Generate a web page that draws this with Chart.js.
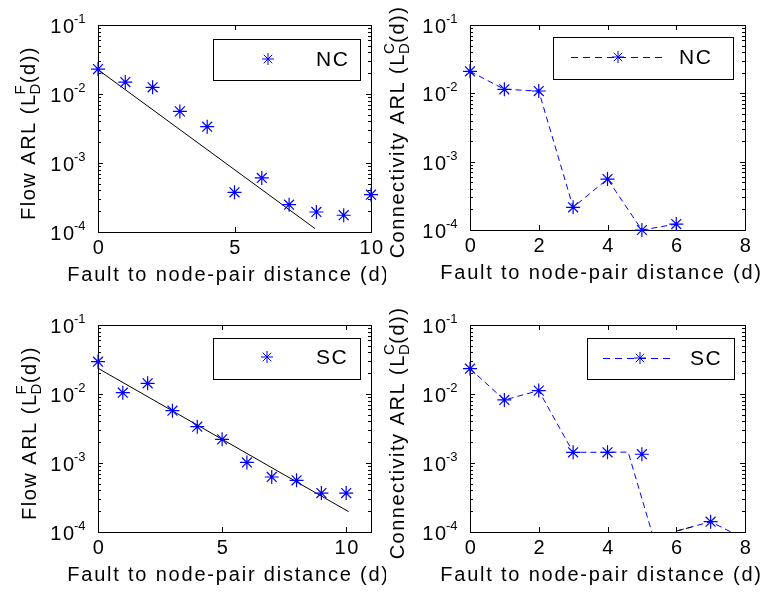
<!DOCTYPE html>
<html>
<head>
<meta charset="utf-8">
<script src="https://cdn.jsdelivr.net/npm/chart.js@4"></script>
<style>
  body { margin: 0; background: #fff; }
  #wrap { position: relative; width: 773px; height: 600px; }
  canvas { position: absolute; }
</style>
</head>
<body>
<div id="wrap">
  <canvas id="c-tl" width="386" height="300" style="left:0;top:0"></canvas>
  <canvas id="c-tr" width="397" height="300" style="left:376px;top:0"></canvas>
  <canvas id="c-bl" width="386" height="300" style="left:0;top:300px"></canvas>
  <canvas id="c-br" width="397" height="300" style="left:376px;top:300px"></canvas>
</div>
<script>
// values
const flowDist = [0, 1, 2, 3, 4, 5, 6, 7, 8, 9, 10];
const flowNC = [0.023, 0.0149, 0.0125, 0.0056, 0.00336, 0.000376, 0.000607, 0.000249, 0.000195, 0.000175, 0.000347];
const flowNCFitX = [0, 7.95];
const flowNCFitY = [0.0225, 0.000112];
const flowSC = [0.0294, 0.01045, 0.0143, 0.00573, 0.00336, 0.0022, 0.00102, 0.000627, 0.000561, 0.000367, 0.000367];
const flowSCFitX = [0, 10.1];
const flowSCFitY = [0.0236, 0.000197];

const connNCDist = [0, 1, 2, 3, 4, 5, 6];
const connNC = [0.021, 0.01146, 0.01081, 0.000215, 0.000557, 0.0001, 0.000122];

const connSCDist = [0, 1, 2, 3, 4, 5, 7];
const connSC = [0.0233, 0.0082, 0.0112, 0.00143, 0.00143, 0.00134, 0.000141];
const connSCLineX = [0, 1, 2, 3, 4, 4.6, 5.6, 6, 7, 8];
const connSCLineY = [0.0233, 0.0082, 0.0112, 0.00143, 0.00143, 0.00144, 0.00003, 0.000103, 0.000141, 0.000079];
const connSCBlackX = [6, 6.5];
const connSCBlackY = [0.000103, 0.00012];

const flowXTicks = [0, 5, 10];
const connXTicks = [0, 2, 4, 6, 8];
const yTickValues = [1e-4, 1e-3, 1e-2, 1e-1];
const yTickExps = ["-4", "-3", "-2", "-1"];

const BLUE = "#0000ff";
const FONT = '"Liberation Sans", Arial, sans-serif';

const pts = (xs, ys) => xs.map((x, i) => ({ x, y: ys[i] }));

const setFont = (ctx, size, ls) => {
  ctx.font = `${size}px ${FONT}`;
  ctx.letterSpacing = (ls || 0) + "px";
};

const drawStar = (ctx, x, y, r) => {
  const d = r * Math.SQRT1_2;
  ctx.beginPath();
  ctx.moveTo(x - r, y); ctx.lineTo(x + r, y);
  ctx.moveTo(x, y - r); ctx.lineTo(x, y + r);
  ctx.moveTo(x - d, y - d); ctx.lineTo(x + d, y + d);
  ctx.moveTo(x - d, y + d); ctx.lineTo(x + d, y - d);
  ctx.stroke();
};

const axesDecor = {
  id: "axesDecor",
  beforeDatasetsDraw(chart, args, o) {
    const { ctx, chartArea: a } = chart;
    const xs = chart.scales.x, ys = chart.scales.y;
    ctx.save();
    ctx.strokeStyle = "#000";
    ctx.lineWidth = 1;
    ctx.strokeRect(Math.round(a.left) + 0.5, Math.round(a.top) + 0.5,
      Math.round(a.right - a.left), Math.round(a.bottom - a.top));
    ctx.beginPath();
    xs.ticks.forEach((t) => {
      const px = Math.round(xs.getPixelForValue(t.value)) + 0.5;
      ctx.moveTo(px, a.bottom); ctx.lineTo(px, a.bottom - 5);
      ctx.moveTo(px, a.top); ctx.lineTo(px, a.top + 5);
    });
    yTickValues.forEach((v, i) => {
      const py = Math.round(ys.getPixelForValue(v)) + 0.5;
      ctx.moveTo(a.left, py); ctx.lineTo(a.left + 5, py);
      ctx.moveTo(a.right, py); ctx.lineTo(a.right - 5, py);
      if (i < yTickValues.length - 1) {
        for (let m = 2; m <= 9; m++) {
          const my = Math.round(ys.getPixelForValue(v * m)) + 0.5;
          ctx.moveTo(a.left, my); ctx.lineTo(a.left + 3, my);
          ctx.moveTo(a.right, my); ctx.lineTo(a.right - 3, my);
        }
      }
    });
    ctx.stroke();
    ctx.restore();
  },
  afterDraw(chart, args, o) {
    const { ctx, chartArea: a } = chart;
    const xs = chart.scales.x, ys = chart.scales.y;
    ctx.save();
    ctx.fillStyle = "#000";
    ctx.textBaseline = "alphabetic";

    // y tick labels 10^k
    yTickValues.forEach((v, i) => {
      const py = ys.getPixelForValue(v);
      const tenRight = a.left - 24;
      setFont(ctx, 20, 1.5);
      ctx.textAlign = "right";
      ctx.fillText("10", tenRight + 1.5, py + 8);
      setFont(ctx, 13, 0);
      ctx.textAlign = "left";
      ctx.fillText(yTickExps[i], tenRight, py - 2);
    });

    // x tick labels
    setFont(ctx, 20, 1.5);
    ctx.textAlign = "center";
    xs.ticks.forEach((t) => {
      ctx.fillText(String(t.value), xs.getPixelForValue(t.value) + 1, a.bottom + 22);
    });

    // x title
    setFont(ctx, 20, 1.8);
    ctx.fillText("Fault to node-pair distance (d)", (a.left + a.right) / 2 - 6, a.bottom + 49);

    // y title with L_D^X
    ctx.translate(o.yTitleX, (a.top + a.bottom) / 2 + 4);
    ctx.rotate(-Math.PI / 2);
    ctx.textAlign = "left";
    setFont(ctx, 20, 1.5);
    const p1 = o.yTitle + " (L";
    const p3 = "(d))";
    const w1 = ctx.measureText(p1).width;
    const w3 = ctx.measureText(p3).width;
    setFont(ctx, 15, 0.5);
    const ws = Math.max(ctx.measureText("D").width, ctx.measureText(o.yTitleSup).width);
    const x0 = -(w1 + ws + w3) / 2;
    setFont(ctx, 20, 1.5);
    ctx.fillText(p1, x0, 0);
    setFont(ctx, 15, 0.5);
    ctx.fillText(o.yTitleSup, x0 + w1 - 1, -10);
    ctx.fillText("D", x0 + w1 - 1, 5);
    setFont(ctx, 20, 1.5);
    ctx.fillText(p3, x0 + w1 + ws - 1, 0);
    ctx.setTransform(1, 0, 0, 1, 0, 0);

    // legend box
    const L = o.legend;
    ctx.fillStyle = "#fff";
    ctx.fillRect(L.x, L.y, L.w, L.h);
    ctx.strokeStyle = "#000";
    ctx.lineWidth = 1;
    ctx.strokeRect(L.x + 0.5, L.y + 0.5, L.w, L.h);
    ctx.strokeStyle = BLUE;
    if (L.line) {
      ctx.setLineDash([7, 5]);
      ctx.beginPath();
      ctx.moveTo(L.line[0], L.my + 0.5);
      ctx.lineTo(L.line[1], L.my + 0.5);
      ctx.stroke();
      ctx.setLineDash([]);
    }
    drawStar(ctx, L.mx, L.my, 6);
    ctx.fillStyle = "#000";
    setFont(ctx, 21, 1.5);
    ctx.textAlign = "left";
    ctx.textBaseline = "middle";
    ctx.fillText(L.text, L.tx, L.my + 1);
    ctx.restore();
  },
};

const markerSet = (data) => ({
  data,
  showLine: false,
  pointStyle: "star",
  pointRadius: 7,
  pointBorderColor: BLUE,
  pointBackgroundColor: BLUE,
  pointBorderWidth: 1.2,
  clip: false,
});

const lineSet = (data, color, dash) => ({
  data,
  showLine: true,
  pointRadius: 0,
  borderColor: color,
  borderWidth: 1,
  borderDash: dash || [],
});

const makePanel = (id, cfg) => {
  const canvas = document.getElementById(id);
  return new Chart(canvas, {
    type: "scatter",
    data: { datasets: cfg.datasets },
    options: {
      responsive: false,
      animation: false,
      devicePixelRatio: 1,
      events: [],
      layout: { padding: { top: cfg.top, right: canvas.width - cfg.right, left: 0, bottom: 0 } },
      plugins: {
        legend: { display: false },
        tooltip: { enabled: false },
        axesDecor: cfg.decor,
      },
      scales: {
        x: {
          type: "linear",
          min: 0,
          max: cfg.xMax,
          grid: { display: false },
          border: { display: false },
          ticks: { display: false },
          afterBuildTicks: (s) => { s.ticks = cfg.xTicks.map((v) => ({ value: v })); },
          afterFit: (s) => { s.height = canvas.height - cfg.bottom; },
        },
        y: {
          type: "logarithmic",
          min: 1e-4,
          max: 1e-1,
          grid: { display: false },
          border: { display: false },
          ticks: { display: false },
          afterFit: (s) => { s.width = cfg.left; },
        },
      },
    },
    plugins: [axesDecor],
  });
};

makePanel("c-tl", {
  left: 98, right: 371, top: 25, bottom: 232, xMax: 10, xTicks: flowXTicks,
  datasets: [markerSet(pts(flowDist, flowNC)), lineSet(pts(flowNCFitX, flowNCFitY), "#000")],
  decor: {
    yTitle: "Flow ARL", yTitleSup: "F", yTitleX: 35,
    legend: { x: 213, y: 39, w: 147, h: 41, mx: 268, my: 59, tx: 316, text: "NC" },
  },
});

makePanel("c-tr", {
  left: 94, right: 369, top: 25, bottom: 230, xMax: 8, xTicks: connXTicks,
  datasets: [markerSet(pts(connNCDist, connNC)), lineSet(pts(connNCDist, connNC), BLUE, [6, 4])],
  decor: {
    yTitle: "Connectivity ARL", yTitleSup: "C", yTitleX: 28,
    legend: { x: 177, y: 37, w: 180, h: 42, mx: 242, my: 57, tx: 303, text: "NC", line: [195, 290] },
  },
});

makePanel("c-bl", {
  left: 98, right: 371, top: 25, bottom: 232, xMax: 11, xTicks: flowXTicks,
  datasets: [markerSet(pts(flowDist, flowSC)), lineSet(pts(flowSCFitX, flowSCFitY), "#000")],
  decor: {
    yTitle: "Flow ARL", yTitleSup: "F", yTitleX: 36,
    legend: { x: 213, y: 38, w: 147, h: 41, mx: 267, my: 57, tx: 316, text: "SC" },
  },
});

makePanel("c-br", {
  left: 94, right: 369, top: 25, bottom: 232, xMax: 8, xTicks: connXTicks,
  datasets: [
    markerSet(pts(connSCDist, connSC)),
    lineSet(pts(connSCBlackX, connSCBlackY), "#000", [6, 4]),
    lineSet(pts(connSCLineX, connSCLineY), BLUE, [6, 4]),
  ],
  decor: {
    yTitle: "Connectivity ARL", yTitleSup: "C", yTitleX: 28,
    legend: { x: 211, y: 38, w: 147, h: 41, mx: 264, my: 58, tx: 314, text: "SC", line: [227, 297] },
  },
});
</script>
</body>
</html>
